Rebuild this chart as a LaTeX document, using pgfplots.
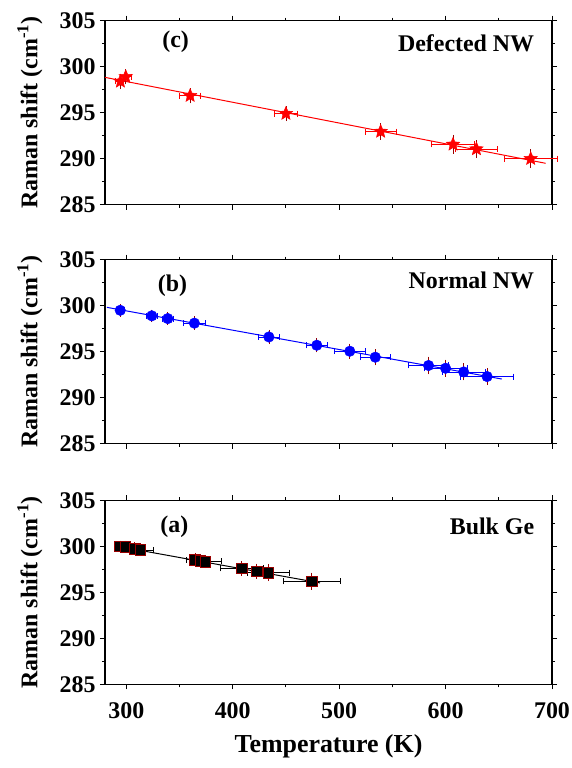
\documentclass[border=0pt]{standalone}
\usepackage{fontspec}
\setmainfont{Liberation Serif}
\usepackage{pgfplots}
\usepackage{pgfplotstable}
\pgfplotsset{compat=1.18}

\pgfdeclareplotmark{fstar}{%
  \pgfpathmoveto{\pgfpointpolar{90}{\pgfplotmarksize}}%
  \pgfpathlineto{\pgfpointpolar{126}{0.45\pgfplotmarksize}}%
  \pgfpathlineto{\pgfpointpolar{162}{\pgfplotmarksize}}%
  \pgfpathlineto{\pgfpointpolar{198}{0.45\pgfplotmarksize}}%
  \pgfpathlineto{\pgfpointpolar{234}{\pgfplotmarksize}}%
  \pgfpathlineto{\pgfpointpolar{270}{0.45\pgfplotmarksize}}%
  \pgfpathlineto{\pgfpointpolar{306}{\pgfplotmarksize}}%
  \pgfpathlineto{\pgfpointpolar{342}{0.45\pgfplotmarksize}}%
  \pgfpathlineto{\pgfpointpolar{18}{\pgfplotmarksize}}%
  \pgfpathlineto{\pgfpointpolar{54}{0.45\pgfplotmarksize}}%
  \pgfpathclose
  \pgfusepathqfillstroke
}

\pgfplotstableread{
T R dx dy
294.5 298.4 5 0.5
299.5 298.9 5 0.5
360 296.85 10 0.5
450 294.9 10.5 0.5
539 292.95 14.5 0.55
607 291.55 20 0.7
629 291.05 20 0.65
680 290.0 25 0.7
}\datac

\pgfplotstableread{
T R dx dy
294.3 299.5 4 0.35
324 298.9 5 0.35
339 298.6 5 0.35
364 298.1 10 0.4
434 296.6 9.5 0.45
479 295.7 10 0.45
510 295.05 14.5 0.5
534 294.4 14.5 0.55
584 293.5 19 0.65
600 293.2 20 0.6
617 292.8 20 0.6
639 292.3 25 0.6
}\datab

\pgfplotstableread{
T R dx dy
294 300.0 4 0.3
298.8 299.95 4 0.3
308 299.75 5 0.35
313 299.6 12 0.35
364.5 298.55 8 0.4
369.3 298.45 10 0.4
374 298.35 15 0.4
408.5 297.6 20 0.45
422.6 297.3 5 0.5
433.5 297.15 20 0.6
474.3 296.2 27 0.6
}\dataa

\definecolor{errred}{rgb}{0.6,0,0}

\pgfplotsset{
  panel/.style={
    width=447bp, height=184bp, scale only axis,
    xmin=280, xmax=700, ymin=285, ymax=305,
    xtick={300,400,...,700}, minor x tick num=1,
    ytick={285,290,...,305}, minor y tick num=1,
    yticklabels={285,290,295,300,305},
    tick align=outside, tick pos=both, ticklabel pos=left,
    major tick length=5bp, minor tick length=3bp,
    every tick/.style={black, line width=1bp},
    axis line style={line width=1.4bp},
    tick label style={font=\bfseries\fontsize{24}{26}\selectfont},
    yticklabel style={xshift=-1bp},
    ylabel={Raman shift (cm\textsuperscript{-1})},
    ylabel style={font=\bfseries\fontsize{24}{27}\selectfont, at={(axis description cs:-0.168,0.5)}, anchor=center},
    clip=false,
  },
  xbars/.style={only marks, mark=none, forget plot,
    error bars/.cd, x dir=both, x explicit,
    error mark options={rotate=90, mark size=3bp, line width=0.7bp, #1},
    error bar style={line width=0.7bp, #1}},
  ybars/.style={only marks, mark=none, forget plot,
    error bars/.cd, y dir=both, y explicit,
    error mark options={mark size=3bp, line width=0.7bp, errred},
    error bar style={line width=0.7bp, errred}},
}

\begin{document}
\begin{tikzpicture}
\useasboundingbox (-105bp,-83.7bp) rectangle (467bp,684.3bp);

% (a) Bulk Ge
\begin{axis}[panel, at={(0,0)}, anchor=south west,
  xticklabels={300,400,500,600,700},
  xticklabel style={yshift=-10bp},
  xlabel={Temperature (K)},
  xlabel style={font=\bfseries\fontsize{26}{29}\selectfont, at={(axis description cs:0.5,-0.335)}, anchor=center}]
\addplot[black, line width=1bp] coordinates {(289,300.06) (482,296.02)};
\addplot[xbars=black] table[x=T, y=R, x error=dx] {\dataa};
\addplot[ybars] table[x=T, y=R, y error=dy] {\dataa};
\addplot[only marks, mark=square*, mark size=5.3bp, black, mark options={draw=errred, fill=black, line width=0.4bp}] table[x=T, y=R] {\dataa};
\node[font=\bfseries\fontsize{24}{27}\selectfont] at (axis description cs:0.155,0.855) {(a)};
\node[font=\bfseries\fontsize{24}{27}\selectfont, anchor=east] at (axis description cs:0.968,0.86) {Bulk Ge};
\end{axis}

% (b) Normal NW
\begin{axis}[panel, at={(0,240.6bp)}, anchor=south west, xticklabels={}]
\addplot[blue, line width=1bp] coordinates {(281.8,299.82) (652.8,292.03)};
\addplot[xbars=blue] table[x=T, y=R, x error=dx] {\datab};
\addplot[ybars] table[x=T, y=R, y error=dy] {\datab};
\addplot[only marks, mark=*, mark size=5.3bp, blue, mark options={draw=blue, fill=blue}] table[x=T, y=R] {\datab};
\node[font=\bfseries\fontsize{24}{27}\selectfont] at (axis description cs:0.151,0.86) {(b)};
\node[font=\bfseries\fontsize{24}{27}\selectfont, anchor=east] at (axis description cs:0.968,0.885) {Normal NW};
\end{axis}

% (c) Defected NW
\begin{axis}[panel, at={(0,479.6bp)}, anchor=south west, xticklabels={}]
\addplot[red, line width=1bp] coordinates {(280,298.84) (694,289.5)};
\addplot[xbars=red] table[x=T, y=R, x error=dx] {\datac};
\addplot[ybars] table[x=T, y=R, y error=dy] {\datac};
\addplot[only marks, mark=fstar, mark size=7bp, red, mark options={draw=red, fill=red, line width=0.5bp}] table[x=T, y=R] {\datac};
\node[font=\bfseries\fontsize{24}{27}\selectfont] at (axis description cs:0.158,0.885) {(c)};
\node[font=\bfseries\fontsize{24}{27}\selectfont, anchor=east] at (axis description cs:0.968,0.88) {Defected NW};
\end{axis}
\end{tikzpicture}
\end{document}
